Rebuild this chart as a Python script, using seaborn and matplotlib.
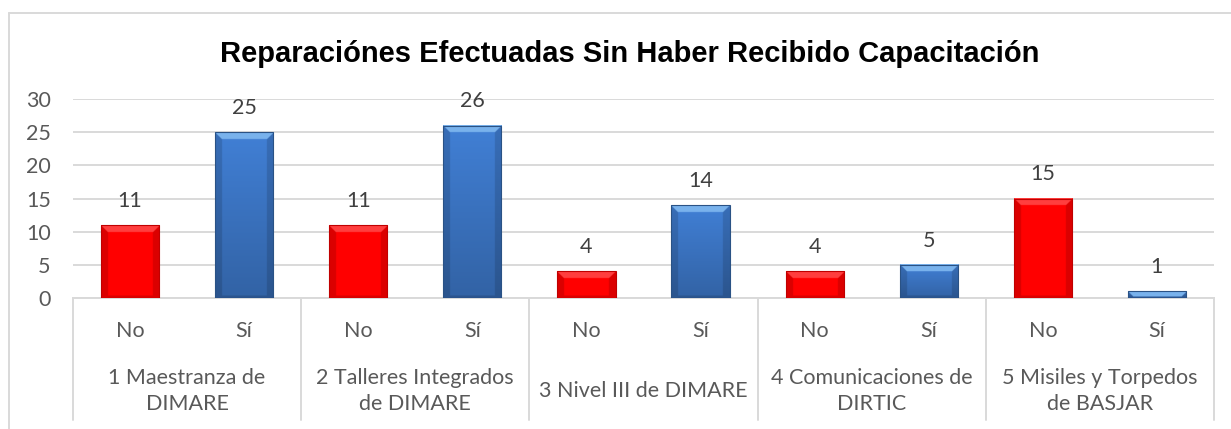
import numpy as np
import pandas as pd
import matplotlib
matplotlib.use("Agg")
import matplotlib.pyplot as plt
import matplotlib.transforms as mtransforms
from matplotlib.colors import to_rgb
from matplotlib.lines import Line2D
import seaborn as sns

# data
unidades = ['1 Maestranza de\nDIMARE', '2 Talleres Integrados\nde DIMARE', '3 Nivel III de DIMARE',
            '4 Comunicaciones de\nDIRTIC', '5 Misiles y Torpedos\nde BASJAR']
respuestas = ['No', 'Sí']
valores_no = [11, 11, 4, 4, 15]
valores_si = [25, 26, 14, 5, 1]

df = pd.DataFrame({
    'unidad': unidades * 2,
    'respuesta': ['No'] * 5 + ['Sí'] * 5,
    'cantidad': valores_no + valores_si,
})

colores = {'No': '#FF0000', 'Sí': '#3B74C2'}
bordes = {'No': '#C00000', 'Sí': '#2A5285'}

sns.set_style("white")
plt.rcParams['font.family'] = ['Lato', 'DejaVu Sans']

W, H = 1231, 429
fig = plt.figure(figsize=(W / 100, H / 100), dpi=100)
ax_left, ax_right, ax_top, ax_bot = 73, 1214, 99, 298
ax = fig.add_axes([ax_left / W, 1 - ax_bot / H, (ax_right - ax_left) / W, (ax_bot - ax_top) / H])

sns.barplot(data=df, x='unidad', y='cantidad', hue='respuesta', order=unidades, hue_order=respuestas,
            palette=colores, width=1.0, gap=0.49, legend=False, ax=ax, saturation=1, zorder=3)

ax.set_xlim(-0.5, len(unidades) - 0.5)
ax.set_ylim(0, 30)
ax.set_yticks(range(0, 31, 5))
ax.set_xticks([])
ax.set_xlabel('')
ax.set_ylabel('')
ax.grid(axis='y', color='#D9D9D9', linewidth=1.4, zorder=0)
ax.set_axisbelow(True)
for s in ['top', 'right', 'left']:
    ax.spines[s].set_visible(False)
ax.spines['bottom'].set_color('#D9D9D9')
ax.spines['bottom'].set_linewidth(1.4)
ax.tick_params(axis='y', length=0, pad=16, labelsize=15.5, labelcolor='#595959')

# bevel look like the excel bars
px_per_unit = (ax_bot - ax_top) / 30.0
px_per_x = (ax_right - ax_left) / len(unidades)


def bevel_image(color, w_px, h_px, b=7):
    base = np.array(to_rgb(color))
    light = np.clip(base + 0.35, 0, 1)
    yy, xx = np.mgrid[0:h_px, 0:w_px]
    d_top = yy + 0.5
    d_bot = h_px - yy - 0.5
    d_l = xx + 0.5
    d_r = w_px - xx - 0.5
    t = (yy / max(h_px - 1, 1))[..., None]
    if color == colores['Sí']:
        img = np.clip(base * (1.1 - 0.25 * t), 0, 1)
    else:
        img = np.broadcast_to(base, (h_px, w_px, 3)).copy()
    m = np.minimum(np.minimum(d_top, d_bot * 3), np.minimum(d_l, d_r))
    edge = m < b
    top = edge & (d_top == m)
    side = edge & ~top
    img[top] = light * 0.7 + base * 0.3
    img[side] = img[side] * 0.86
    return img


for i, patch in enumerate(ax.patches):
    x0, y0 = patch.get_x(), patch.get_y()
    w, h = patch.get_width(), patch.get_height()
    if h <= 0:
        continue
    resp = 'No' if i < len(unidades) else 'Sí'
    w_px = max(int(round(w * px_per_x)), 2) * 2
    h_px = max(int(round(h * px_per_unit)), 2) * 2
    img = bevel_image(colores[resp], w_px, h_px, b=14)
    ax.imshow(img, extent=(x0, x0 + w, y0, y0 + h), aspect='auto', zorder=4, interpolation='bilinear')
    patch.set_facecolor('none')
    patch.set_edgecolor(bordes[resp])
    patch.set_linewidth(0.8)
    patch.set_zorder(5)
    ax.annotate(f'{int(h)}', (x0 + w / 2, h), xytext=(0, 17.5), textcoords='offset points',
                ha='center', va='center', fontsize=15.5, color='#404040')

ax.set_xlim(-0.5, len(unidades) - 0.5)
ax.set_ylim(0, 30)

# multi level category axis
trans = mtransforms.blended_transform_factory(ax.transData, fig.transFigure)
for g, nombre in enumerate(unidades):
    for k, r in enumerate(respuestas):
        ax.text(g - 0.25 + 0.5 * k, 1 - 331 / H, r, transform=trans, ha='center', va='center',
                fontsize=15.5, color='#595959')
    ax.text(g, 1 - 391 / H, nombre, transform=trans, ha='center', va='center', fontsize=15.5,
            color='#595959', linespacing=1.4)
for g in range(len(unidades) + 1):
    ax.add_line(Line2D([g - 0.5, g - 0.5], [1 - ax_bot / H, 1 - 420 / H], transform=trans,
                       color='#D9D9D9', linewidth=1.4, clip_on=False))

fig.text(630 / W, 1 - 54 / H, 'Reparaciónes Efectuadas Sin Haber Recibido Capacitación',
         ha='center', va='center', fontsize=21, fontweight='bold', color='black',
         family=['Liberation Sans', 'DejaVu Sans'])

# outer chart border
fig.add_artist(Line2D([9 / W, 9 / W], [0, 1 - 13 / H], transform=fig.transFigure, color='#D9D9D9', linewidth=1.4))
fig.add_artist(Line2D([9 / W, 1], [1 - 13 / H, 1 - 13 / H], transform=fig.transFigure, color='#D9D9D9', linewidth=1.4))

fig.savefig('out.png', dpi=100)
